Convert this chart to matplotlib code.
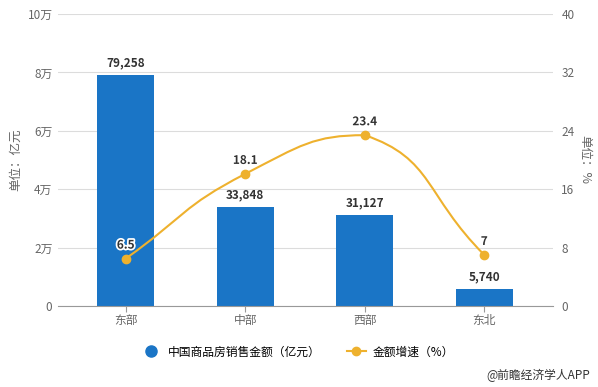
import matplotlib
matplotlib.use("Agg")
import matplotlib.pyplot as plt
import matplotlib.patheffects as pe
from matplotlib.path import Path
from matplotlib.patches import PathPatch
from matplotlib.lines import Line2D
import numpy as np

plt.rcParams['font.family'] = ['Noto Sans CJK SC', 'DejaVu Sans']

regions = ['东部', '中部', '西部', '东北']
sales = [79258, 33848, 31127, 5740]          # 亿元
growth = [6.5, 18.1, 23.4, 7]                # %
left_ticks = [0, 20000, 40000, 60000, 80000, 100000]
left_labels = ['0', '2万', '4万', '6万', '8万', '10万']
right_ticks = [0, 8, 16, 24, 32, 40]

BLUE = '#1a75c6'
GOLD = '#eeb12e'
GRID = '#dcdcdc'
TXT = '#666666'

fig = plt.figure(figsize=(5.98, 3.87), dpi=100)
ax = fig.add_axes([58 / 598, 81 / 387, 495 / 598, 292 / 387])
ax2 = ax.twinx()

x = np.arange(len(regions))
ax.bar(x, sales, 0.48, color=BLUE, zorder=2)
for xi, v in zip(x, sales):
    ax.annotate(f"{v:,}", (xi, v), xytext=(0, 4), textcoords='offset points',
                ha='center', va='bottom', fontsize=8.5, fontweight='bold',
                color='#333333', zorder=5)

ax.set_xlim(-0.567, 3.575)
ax.set_ylim(0, 100000)
ax.set_yticks(left_ticks)
ax.set_yticklabels(left_labels)
ax.set_xticks(x)
ax.set_xticklabels(regions)
ax.grid(axis='y', color=GRID, linewidth=0.8, zorder=0)
ax.set_axisbelow(True)
for s in ['top', 'right', 'left']:
    ax.spines[s].set_visible(False)
ax.spines['bottom'].set_color('#999999')
ax.tick_params(axis='y', length=0, labelsize=8.5, labelcolor=TXT, pad=4)
ax.tick_params(axis='x', length=4, color='#999999', labelsize=8.5, labelcolor=TXT, pad=2)
ax.set_ylabel('单位：亿元', fontsize=9, color=TXT, labelpad=4)

# smoothed growth line (bezier through data points, control points clamped)
ys = np.array(growth, dtype=float)
xs = x.astype(float)
ymin, ymax = ys.min(), ys.max()
verts = [(xs[0], ys[0])]
codes = [Path.MOVETO]
n = len(xs)
def ctrl(i):
    p = np.array([xs[i], ys[i]])
    prev = np.array([xs[max(i - 1, 0)], ys[max(i - 1, 0)]])
    nxt = np.array([xs[min(i + 1, n - 1)], ys[min(i + 1, n - 1)]])
    v = (nxt - prev) * 0.5
    d1 = np.linalg.norm((p - prev) * [120, 7.3])
    d2 = np.linalg.norm((nxt - p) * [120, 7.3])
    tot = d1 + d2 if d1 + d2 > 0 else 1
    c_in = p - v * d1 / tot
    c_out = p + v * d2 / tot
    c_in[1] = np.clip(c_in[1], ymin, ymax)
    c_out[1] = np.clip(c_out[1], ymin, ymax)
    return c_in, c_out
for i in range(n - 1):
    _, c1 = ctrl(i)
    c2, _ = ctrl(i + 1)
    verts += [tuple(c1), tuple(c2), (xs[i + 1], ys[i + 1])]
    codes += [Path.CURVE4] * 3
ax2.add_patch(PathPatch(Path(verts, codes), facecolor='none', edgecolor=GOLD,
                        linewidth=1.5, zorder=3))
ax2.plot(xs, ys, 'o', color=GOLD, markersize=6, zorder=4)
for xi, v in zip(xs, ys):
    ax2.annotate(f"{v:g}", (xi, v), xytext=(0, 5), textcoords='offset points',
                 ha='center', va='bottom', fontsize=8.5, fontweight='bold',
                 color='#333333', zorder=5,
                 path_effects=[pe.withStroke(linewidth=2.5, foreground='white')])

ax2.set_ylim(0, 40)
ax2.set_yticks(right_ticks)
for s in ['top', 'right', 'left', 'bottom']:
    ax2.spines[s].set_visible(False)
ax2.tick_params(axis='y', length=0, labelsize=8.5, labelcolor=TXT, pad=6)
ax2.set_ylabel('单位：%', fontsize=9, color=TXT, rotation=-90, labelpad=12)

handles = [
    Line2D([], [], marker='o', linestyle='none', color=BLUE, markersize=8),
    Line2D([], [], marker='o', color=GOLD, markersize=6, linewidth=1.5),
]
fig.legend(handles, ['中国商品房销售金额（亿元）', '金额增速（%）'],
           loc='center', bbox_to_anchor=(298 / 598, 1 - 352 / 387), ncol=2,
           frameon=False, fontsize=8.5, handlelength=1.6, columnspacing=2.2,
           handletextpad=0.6)
fig.text(590 / 598, 1 - 375 / 387, '@前瞻经济学人APP', ha='right', va='center',
         fontsize=8.5, color='#333333')

fig.savefig('out.png', dpi=100)
